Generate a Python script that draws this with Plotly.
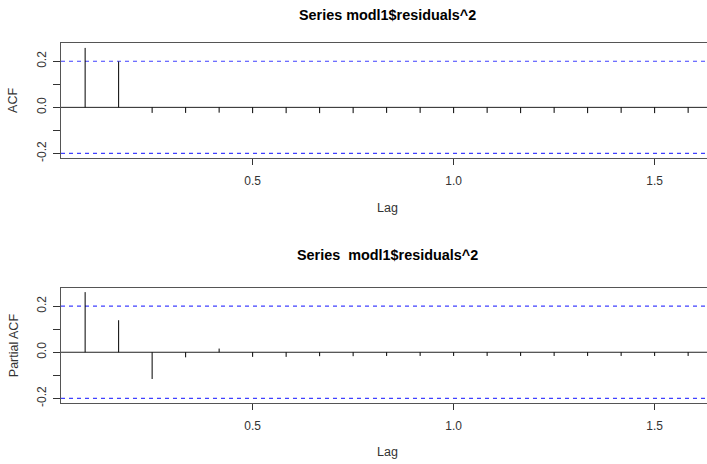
import plotly.graph_objects as go

lags = list(range(1, 20))
acf_vals = [0.258, 0.199, -0.024, -0.024, -0.023, -0.025, -0.025, -0.025, -0.025,
            -0.024, -0.024, -0.025, -0.024, -0.025, -0.024, -0.025, -0.024, -0.025, -0.024]
pacf_vals = [0.261, 0.139, -0.116, -0.022, 0.016, -0.020, -0.020, -0.017, -0.017,
             -0.016, -0.016, -0.016, -0.016, -0.016, -0.016, -0.016, -0.016, -0.016, -0.016]
ci = 0.2
freq = 12
titles = ["Series modl1$residuals^2", "Series  modl1$residuals^2"]
ylabels = ["ACF", "Partial ACF"]
xtick_vals = [0.5, 1.0, 1.5]
xtick_text = ["0.5", "1.0", "1.5"]
ytick_vals = [-0.2, -0.1, 0.0, 0.1, 0.2]
ytick_text = ["-0.2", "", "0.0", "", "0.2"]

W, H = 707, 464
left_px = 61
x0 = 0.0233
x1 = x0 + (W - left_px) / 402.0
panels = [
    dict(top=43.3, bot=159.3, ylo=-0.2194, yhi=0.2796, vals=acf_vals, title_y=15, lag_y=210),
    dict(top=290.7, bot=406.7, ylo=-0.221, yhi=0.278, vals=pacf_vals, title_y=257, lag_y=456),
]
center_x = 387
label_x = 13.5

fig = go.Figure()
font = "Liberation Sans, Arial, sans-serif"
for i, p in enumerate(panels):
    xa = "x" if i == 0 else "x2"
    ya = "y" if i == 0 else "y2"
    xs, ys = [], []
    for l, v in zip(lags, p["vals"]):
        lx = l / freq
        xs += [lx, lx, None]
        ys += [0, v, None]
    fig.add_trace(go.Scatter(x=[x0, x1], y=[0, 0], mode="lines", line=dict(color="#222", width=1),
                             xaxis=xa, yaxis=ya, showlegend=False, hoverinfo="skip"))
    for s in (1, -1):
        fig.add_trace(go.Scatter(x=[x0, x1], y=[s * ci, s * ci], mode="lines",
                                 line=dict(color="#4040ff", width=1.2, dash="4px,4px"),
                                 xaxis=xa, yaxis=ya, showlegend=False, hoverinfo="skip"))
    fig.add_trace(go.Scatter(x=xs, y=ys, mode="lines", line=dict(color="black", width=1),
                             xaxis=xa, yaxis=ya, showlegend=False, hoverinfo="skip"))
    dom = [1 - p["bot"] / H, 1 - p["top"] / H]
    axx = dict(range=[x0, x1], domain=[left_px / W, 1], showgrid=False, zeroline=False,
               showline=True, mirror=True, linecolor="#555", linewidth=1.3,
               ticks="outside", ticklen=6, tickcolor="#333", tickwidth=1, tickvals=xtick_vals,
               ticktext=xtick_text, tickfont=dict(family=font, size=12, color="#333"),
               ticklabelstandoff=5, anchor=ya)
    axy = dict(range=[p["ylo"], p["yhi"]], domain=dom, showgrid=False, zeroline=False,
               showline=True, mirror=False, linecolor="#555", linewidth=1.3,
               ticks="outside", ticklen=7, tickcolor="#333", tickwidth=1, tickvals=ytick_vals,
               ticktext=ytick_text, tickangle=-90,
               tickfont=dict(family=font, size=12, color="#333"), ticklabelstandoff=2, anchor=xa)
    if i == 0:
        fig.update_layout(xaxis=axx, yaxis=axy)
    else:
        fig.update_layout(xaxis2=axx, yaxis2=axy)
    fig.add_annotation(text="<b>" + titles[i] + "</b>", x=center_x / W, y=1 - p["title_y"] / H,
                       xref="paper", yref="paper", showarrow=False,
                       font=dict(family=font, size=14.4, color="black"), xanchor="center", yanchor="middle")
    fig.add_annotation(text="Lag", x=center_x / W, y=1 - p["lag_y"] / H,
                       xref="paper", yref="paper", showarrow=False,
                       font=dict(family=font, size=12.5, color="#333"), xanchor="center", yanchor="middle")
    fig.add_annotation(text=ylabels[i], x=label_x / W, y=1 - ((p["top"] + p["bot"]) / 2) / H,
                       xref="paper", yref="paper", showarrow=False, textangle=-90,
                       font=dict(family=font, size=12.5, color="#333"), xanchor="center", yanchor="middle")

fig.update_layout(width=W, height=H, margin=dict(l=0, r=0, t=0, b=0),
                  plot_bgcolor="white", paper_bgcolor="white")
fig.write_html("out.html", config={"displayModeBar": False, "staticPlot": True},
               post_script="document.body.style.margin='0';document.body.style.overflow='hidden';")
